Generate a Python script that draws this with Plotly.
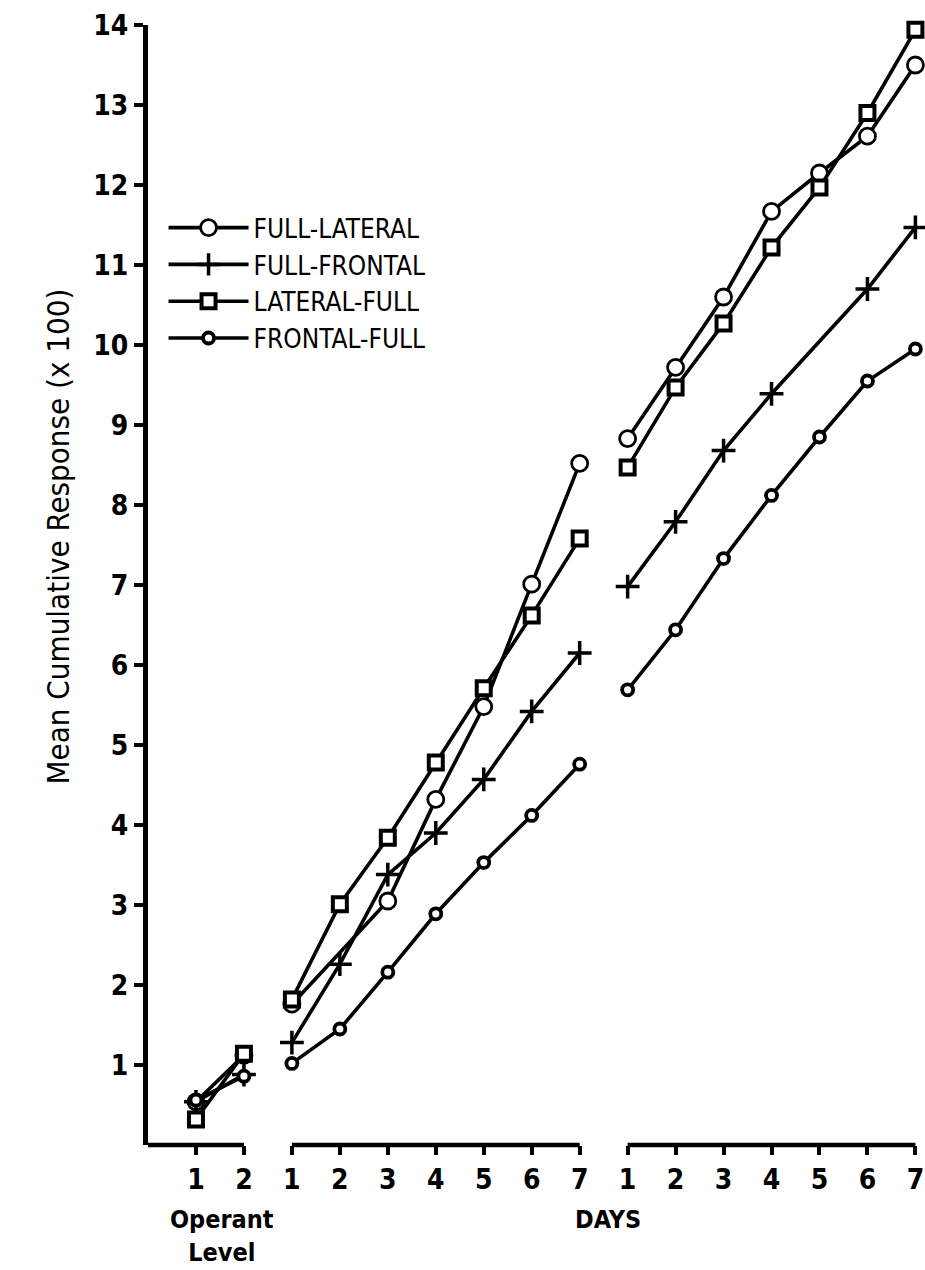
import plotly.graph_objects as go

# ---------------- data ----------------
OPERANT_DAYS = [1, 2]
DAYS = [1, 2, 3, 4, 5, 6, 7]
Y_TICKS = list(range(1, 15))

# Operant level (2 sessions)
full_lateral_op = [0.54, 1.12]
full_frontal_op = [0.54, 0.88]
lateral_full_op = [0.32, 1.14]
frontal_full_op = [0.56, 0.86]

# First block of days (None = no visible marker)
full_lateral_b1 = [1.76, None, 3.05, 4.32, 5.48, 7.01, 8.52]
full_frontal_b1 = [1.28, 2.26, 3.38, 3.90, 4.57, 5.42, 6.15]
lateral_full_b1 = [1.82, 3.01, 3.84, 4.78, 5.71, 6.62, 7.58]
frontal_full_b1 = [1.02, 1.45, 2.16, 2.89, 3.53, 4.12, 4.76]

# Second block of days
full_lateral_b2 = [8.83, 9.72, 10.60, 11.67, 12.15, 12.61, 13.50]
full_frontal_b2 = [6.98, 7.79, 8.68, 9.39, None, 10.70, 11.47]
lateral_full_b2 = [8.47, 9.47, 10.27, 11.22, 11.97, 12.90, 13.94]
frontal_full_b2 = [5.69, 6.44, 7.33, 8.12, 8.85, 9.55, 9.95]

SERIES_NAMES = ["FULL-LATERAL", "FULL-FRONTAL", "LATERAL-FULL", "FRONTAL-FULL"]

# ---------------- layout helpers (positions / styles) ----------------
OFFSET_OP, OFFSET_B1, OFFSET_B2 = 0, 2, 9

def seg(days, vals, offset):
    xs, ys = [], []
    for d, v in zip(days, vals):
        if v is not None:
            xs.append(d + offset)
            ys.append(v)
    return xs, ys

styles = {
    "FULL-LATERAL": dict(symbol="circle", size=16, color="white",
                         line=dict(color="black", width=2.8)),
    "FULL-FRONTAL": dict(symbol="cross-thin-open", size=17, color="black",
                         line=dict(color="black", width=3.5)),
    "LATERAL-FULL": dict(symbol="square", size=14, color="white",
                         line=dict(color="black", width=4)),
    "FRONTAL-FULL": dict(symbol="circle", size=11, color="white",
                         line=dict(color="black", width=3.8)),
}

data = {
    "FULL-LATERAL": (full_lateral_op, full_lateral_b1, full_lateral_b2),
    "FULL-FRONTAL": (full_frontal_op, full_frontal_b1, full_frontal_b2),
    "LATERAL-FULL": (lateral_full_op, lateral_full_b1, lateral_full_b2),
    "FRONTAL-FULL": (frontal_full_op, frontal_full_b1, frontal_full_b2),
}

fig = go.Figure()
for name in SERIES_NAMES:
    op, b1, b2 = data[name]
    parts = [seg(OPERANT_DAYS, op, OFFSET_OP), seg(DAYS, b1, OFFSET_B1), seg(DAYS, b2, OFFSET_B2)]
    for i, (xs, ys) in enumerate(parts):
        fig.add_trace(go.Scatter(
            x=xs, y=ys, mode="lines+markers", name=name, legendgroup=name,
            showlegend=(i == 1), cliponaxis=False,
            line=dict(color="black", width=3.6),
            marker=styles[name],
        ))

tick_vals = [d + OFFSET_OP for d in OPERANT_DAYS] + [d + OFFSET_B1 for d in DAYS] + [d + OFFSET_B2 for d in DAYS]
tick_text = [str(d) for d in OPERANT_DAYS] + [str(d) for d in DAYS] + [str(d) for d in DAYS]

TICK_FONT = dict(family="Liberation Sans Narrow, DejaVu Sans Condensed, Liberation Sans, sans-serif",
                 size=28, color="black", weight="bold")

fig.update_layout(
    width=925, height=1270,
    margin=dict(l=148, r=0, t=25, b=125),
    paper_bgcolor="white", plot_bgcolor="white",
    showlegend=True,
    legend=dict(x=0.02, y=0.84, xanchor="left", yanchor="top",
                bgcolor="rgba(0,0,0,0)", itemwidth=80,
                font=dict(family="DejaVu Sans Condensed, Liberation Sans, sans-serif",
                          size=26, color="black"),
                tracegroupgap=0),
    xaxis=dict(range=[0, 16.2], showline=False, showgrid=False, zeroline=False,
               tickmode="array", tickvals=tick_vals, ticktext=tick_text,
               ticks="outside", ticklen=9, tickwidth=3.5, tickcolor="black",
               tickfont=TICK_FONT),
    yaxis=dict(range=[0, 14], showline=True, linewidth=5, linecolor="black",
               showgrid=False, zeroline=False,
               tickmode="array", tickvals=Y_TICKS, ticktext=[str(v) for v in Y_TICKS],
               ticks="outside", ticklen=9, tickwidth=3.5, tickcolor="black",
               tickfont=TICK_FONT),
)

# segmented x axis lines
for x0, x1 in [(0, 2), (3, 9), (10, 16)]:
    fig.add_shape(type="line", xref="x", yref="paper", x0=x0, x1=x1, y0=0, y1=0,
                  line=dict(color="black", width=4.5))

LABEL_FONT = dict(family="DejaVu Sans Condensed, Liberation Sans, Arial, sans-serif",
                  size=25, color="black", weight="bold")
fig.add_annotation(text="Operant<br>Level", xref="x", yref="paper", x=1.55, y=-0.052,
                   yanchor="top", showarrow=False, font=LABEL_FONT, align="center")
fig.add_annotation(text="DAYS", xref="x", yref="paper", x=9.6, y=-0.052,
                   yanchor="top", showarrow=False, font=LABEL_FONT)
fig.add_annotation(text="Mean Cumulative Response (x 100)", xref="paper", yref="paper",
                   x=-0.142, y=0.543, textangle=-90, showarrow=False,
                   font=dict(family="DejaVu Sans Condensed, Liberation Sans, Arial, sans-serif",
                             size=31, color="black"))

fig.write_html("out.html")
